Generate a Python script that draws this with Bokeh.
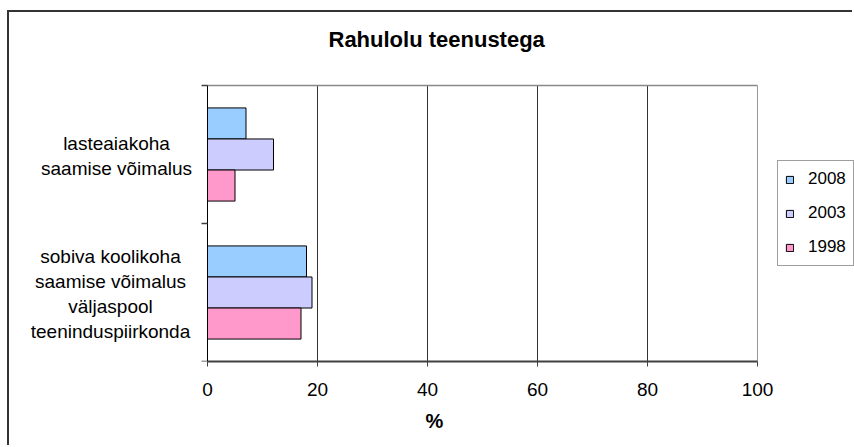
from bokeh.plotting import figure
from bokeh.models import (ColumnDataSource, Range1d, FixedTicker, Title,
                          Legend, LegendItem, LabelSet, Label)
from bokeh.core.properties import value
from bokeh.embed import file_html
from bokeh.resources import INLINE

# ---- data ----
categories = ["lasteaiakoha saamise võimalus",
              "sobiva koolikoha saamise võimalus väljaspool teeninduspiirkonda"]
category_labels = ["lasteaiakoha\nsaamise võimalus",
                   "sobiva koolikoha\nsaamise võimalus\nväljaspool\nteeninduspiirkonda"]
years = ["2008", "2003", "1998"]
v2008 = [7, 18]
v2003 = [12, 19]
v1998 = [5, 17]
x_ticks = [0, 20, 40, 60, 80, 100]
title_text = "Rahulolu teenustega"
x_label = "%"

colors = {"2008": "#99CCFF", "2003": "#CCCCFF", "1998": "#FF99CC"}
FONT = "Liberation Sans"

# ---- layout (window pixels) ----
CANVAS_X, CANVAS_Y = 9, 12          # after page offset + border
W, H = 845, 435
MB_LEFT, MB_RIGHT, MB_BOTTOM = 14, 0, 86
PLOT_L, PLOT_R, PLOT_T, PLOT_B = 207, 757, 85, 361   # drawn plot area
FRAME_L = CANVAS_X + MB_LEFT
FRAME_R = CANVAS_X + W - MB_RIGHT
FRAME_T = CANVAS_Y
FRAME_B = CANVAS_Y + H - MB_BOTTOM
LABEL_CENTER_PX = [116, 110]      # horizontal centre of each category label block
LINE_PX = 24.7                    # label line spacing

n = len(categories)
xmin, xmax = x_ticks[0], x_ticks[-1]
ppx = (PLOT_R - PLOT_L) / (xmax - xmin)
ppy = (PLOT_B - PLOT_T) / n
x_range = Range1d(xmin - (PLOT_L - FRAME_L) / ppx, xmax + (FRAME_R - PLOT_R) / ppx)
y_range = Range1d(0 - (FRAME_B - PLOT_B) / ppy, n + (PLOT_T - FRAME_T) / ppy)

centers = [n - i - 0.5 for i in range(n)]
bar_h = 0.225
offsets = {"2008": bar_h, "2003": 0.0, "1998": -bar_h}
values_by_year = {"2008": v2008, "2003": v2003, "1998": v1998}

data = dict(cat=categories, yc=centers)
for yr in years:
    data["v" + yr] = values_by_year[yr]
    data["y" + yr] = [c + offsets[yr] for c in centers]
source = ColumnDataSource(data)

# one text item per label line, so each line is centred
ln_text, ln_y, ln_xo, ln_yo = [], [], [], []
for i, lab in enumerate(category_labels):
    lines = lab.split("\n")
    m = len(lines)
    for k, line in enumerate(lines):
        ln_text.append(line)
        ln_y.append(centers[i])
        ln_xo.append(LABEL_CENTER_PX[i] - PLOT_L)
        ln_yo.append(-(k - (m - 1) / 2) * LINE_PX - 1.5)
line_src = ColumnDataSource(dict(text=ln_text, y=ln_y, xo=ln_xo, yo=ln_yo))

p = figure(width=W, height=H, output_backend="svg", toolbar_location=None,
           x_range=x_range, y_range=y_range,
           min_border_left=MB_LEFT, min_border_right=MB_RIGHT,
           min_border_top=0, min_border_bottom=MB_BOTTOM)
p.styles = {"margin-left": "7px", "margin-top": "10px",
            "border-left": "2px solid #333333", "border-top": "2px solid #333333"}
p.background_fill_color = "white"
p.border_fill_color = "white"
p.outline_line_color = None
p.grid.visible = False

# vertical grid lines and plot-area border (top, right)
grid_src = ColumnDataSource(dict(x=x_ticks[1:-1]))
p.segment(x0="x", y0=0, x1="x", y1=n, source=grid_src, line_color="#333333", line_width=1)
p.line(x=[xmin, xmax], y=[n, n], line_color="#888888", line_width=1.5)
p.line(x=[xmax, xmax], y=[0, n], line_color="#999999", line_width=1)

renderers = {}
for yr in years:
    renderers[yr] = p.hbar(y="y" + yr, right="v" + yr, left=0, height=bar_h,
                           source=source, fill_color=colors[yr],
                           line_color="black", line_width=1)

# y axis at x=0 with ticks at category boundaries
ya = p.yaxis[0]
ya.fixed_location = 0
ya.bounds = (0, n)
ya.ticker = FixedTicker(ticks=list(range(n + 1)))
ya.major_label_overrides = {i: "" for i in range(n + 1)}
ya.major_label_standoff = 0
ya.major_tick_out = 6
ya.major_tick_in = 0
ya.minor_tick_line_color = None
ya.axis_line_color = "black"
ya.major_tick_line_color = "#404040"
ya.major_tick_line_width = 1.5

labels = LabelSet(x=0, y="y", text="text", source=line_src, x_offset="xo", y_offset="yo",
                  text_align="center", text_baseline="middle",
                  text_font=value(FONT), text_font_size="19px", text_color="black")
p.add_layout(labels)

# x axis
xa = p.xaxis[0]
xa.bounds = (xmin, xmax)
xa.ticker = FixedTicker(ticks=x_ticks)
xa.axis_line_color = "#404040"
xa.axis_line_width = 2
xa.major_tick_out = 5
xa.major_tick_in = 0
xa.major_tick_line_color = "#404040"
xa.minor_tick_line_color = None
xa.major_label_text_font = FONT
xa.major_label_text_font_size = "19px"
xa.major_label_text_color = "black"
xa.major_label_standoff = 16

xt = Title(text=x_label, align="left", offset=425 - FRAME_L, vertical_align="top",
           standoff=22, text_font=FONT, text_font_size="20px", text_font_style="bold",
           text_color="black")
p.add_layout(xt, "below")

# chart title
p.add_layout(Label(x=0, y=n, x_offset=328 - PLOT_L, y_offset=PLOT_T - 39, text=title_text,
                   text_baseline="alphabetic", text_align="left",
                   text_font=FONT, text_font_size="22px", text_font_style="bold",
                   text_color="black"))

legend = Legend(items=[LegendItem(label=yr, renderers=[renderers[yr]]) for yr in years],
                location=(777 - FRAME_L, FRAME_B - 266), orientation="vertical",
                glyph_width=9, glyph_height=9, label_width=38, label_height=22,
                label_standoff=14, spacing=12, padding=7, margin=0,
                label_text_font=FONT, label_text_font_size="17px", label_text_color="black",
                border_line_color="#404040", border_line_width=1,
                background_fill_color="white", background_fill_alpha=1)
p.add_layout(legend, "center")

open("out.html", "w").write(file_html(p, INLINE))
